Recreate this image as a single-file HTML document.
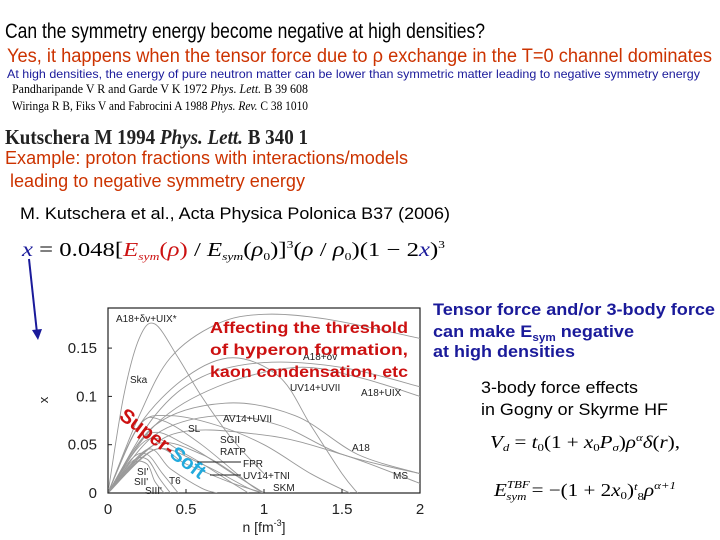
<!DOCTYPE html>
<html><head><meta charset="utf-8"><style>
html,body{margin:0;padding:0;background:#fff;}
svg{display:block;font-family:"Liberation Sans",sans-serif;}
.s{font-family:"Liberation Serif",serif;}
.lab{font-size:10px;fill:#222;}
</style></head><body>
<svg id="slide" width="720" height="540" viewBox="0 0 720 540" xmlns="http://www.w3.org/2000/svg">
<text x="5" y="38" font-size="21" textLength="480" lengthAdjust="spacingAndGlyphs">Can the symmetry energy become negative at high densities?</text>
<text x="7" y="62" font-size="19" fill="#cc3300" textLength="705" lengthAdjust="spacingAndGlyphs">Yes, it happens when the tensor force due to ρ exchange in the T=0 channel dominates</text>
<text x="7" y="78" font-size="12" fill="#1a1a9a" textLength="693" lengthAdjust="spacingAndGlyphs">At high densities, the energy of pure neutron matter can be lower than symmetric matter leading to negative symmetry energy</text>
<text class="s" x="12" y="93" font-size="13" textLength="296" lengthAdjust="spacingAndGlyphs">Pandharipande V R and Garde V K 1972 <tspan font-style="italic">Phys. Lett.</tspan> B 39 608</text>
<text class="s" x="12" y="110" font-size="13" textLength="296" lengthAdjust="spacingAndGlyphs">Wiringa R B, Fiks V and Fabrocini A 1988 <tspan font-style="italic">Phys. Rev.</tspan> C 38 1010</text>
<text class="s" x="5" y="144" font-size="21" font-weight="bold" fill="#222" textLength="303" lengthAdjust="spacingAndGlyphs">Kutschera M 1994 <tspan font-style="italic">Phys. Lett.</tspan> B 340 1</text>
<text x="5" y="164" font-size="18" fill="#cc3300" textLength="403" lengthAdjust="spacingAndGlyphs">Example: proton fractions with interactions/models</text>
<text x="10" y="187" font-size="18" fill="#cc3300" textLength="295" lengthAdjust="spacingAndGlyphs">leading to negative symmetry energy</text>
<text x="20" y="219" font-size="17" textLength="430" lengthAdjust="spacingAndGlyphs">M. Kutschera et al., Acta Physica Polonica B37 (2006)</text>
<text class="s" x="22" y="256" font-size="20" textLength="423" lengthAdjust="spacingAndGlyphs"><tspan fill="#1a1a9a" font-style="italic">x</tspan> = 0.048[<tspan fill="#cc1111" font-style="italic">E<tspan font-size="11" dy="4">sym</tspan></tspan><tspan dy="-4" fill="#cc1111">(<tspan font-style="italic">ρ</tspan>)</tspan> / <tspan font-style="italic">E<tspan font-size="11" dy="4">sym</tspan></tspan><tspan dy="-4">(<tspan font-style="italic">ρ</tspan><tspan font-size="11" dy="4">0</tspan></tspan><tspan dy="-4">)]<tspan font-size="11" dy="-8">3</tspan></tspan><tspan dy="8">(<tspan font-style="italic">ρ</tspan> / <tspan font-style="italic">ρ</tspan><tspan font-size="11" dy="4">0</tspan></tspan><tspan dy="-4">)(1 − 2<tspan fill="#1a1a9a" font-style="italic">x</tspan>)<tspan font-size="11" dy="-8">3</tspan></tspan></text>
<line x1="29" y1="259" x2="37" y2="333" stroke="#1a1a9a" stroke-width="2"/>
<polygon points="32,330 42,329 38,340" fill="#1a1a9a"/>

<g id="chart"></g>

<text x="433" y="315" font-size="17" font-weight="bold" fill="#1a1a9a" textLength="282" lengthAdjust="spacingAndGlyphs">Tensor force and/or 3-body force</text>
<text x="433" y="337" font-size="17" font-weight="bold" fill="#1a1a9a" textLength="201" lengthAdjust="spacingAndGlyphs">can make E<tspan font-size="11" dy="4">sym</tspan><tspan dy="-4"> negative</tspan></text>
<text x="433" y="357" font-size="17" font-weight="bold" fill="#1a1a9a" textLength="142" lengthAdjust="spacingAndGlyphs">at high densities</text>
<text x="481" y="393" font-size="17" textLength="157" lengthAdjust="spacingAndGlyphs">3-body force effects</text>
<text x="481" y="415" font-size="17" textLength="187" lengthAdjust="spacingAndGlyphs">in Gogny or Skyrme HF</text>
<text class="s" x="490" y="448" font-size="18" textLength="190" lengthAdjust="spacingAndGlyphs"><tspan font-style="italic">V<tspan font-size="11" dy="3">d</tspan></tspan><tspan dy="-3"> = </tspan><tspan font-style="italic">t</tspan><tspan font-size="11" dy="3">0</tspan><tspan dy="-3">(1 + </tspan><tspan font-style="italic">x</tspan><tspan font-size="11" dy="3">0</tspan><tspan dy="-3" font-style="italic">P<tspan font-size="11" dy="3">σ</tspan></tspan><tspan dy="-3">)</tspan><tspan font-style="italic">ρ<tspan font-size="11" dy="-7">α</tspan></tspan><tspan dy="7" font-style="italic">δ</tspan>(<tspan font-style="italic">r</tspan>),</text>
<text class="s" x="494" y="496" font-size="18" textLength="182" lengthAdjust="spacingAndGlyphs"><tspan font-style="italic">E<tspan font-size="11" dy="-8">TBF</tspan></tspan><tspan font-size="11" font-style="italic" dx="-20" dy="12">sym</tspan><tspan dy="-4"> = −(1 + 2</tspan><tspan font-style="italic">x</tspan><tspan font-size="11" dy="3">0</tspan><tspan dy="-3">)</tspan><tspan font-size="11" dy="-6" font-style="italic">t</tspan><tspan font-size="11" dy="10">8</tspan><tspan dy="-4" font-style="italic">ρ</tspan><tspan font-size="11" dy="-7" font-style="italic">α+1</tspan></text>
</svg>
<script>
const xTicks=[0,0.5,1,1.5,2];
const xTickLabels=["0","0.5","1","1.5","2"];
const yTicks=[0,0.05,0.1,0.15];
const yTickLabels=["0","0.05","0.1","0.15"];
const curveA18dvUIX=[[0,0],[0.1,0.1],[0.2,0.16],[0.3,0.175],[0.45,0.14],[0.6,0.1],[0.8,0.055],[1.0,0.02]];
const curveTop=[[0,0],[0.2,0.08],[0.4,0.14],[0.7,0.175],[1.0,0.185],[1.4,0.18],[2,0.16]];
const curveA18dv=[[0,0],[0.2,0.07],[0.5,0.12],[0.8,0.14],[1.1,0.12],[1.3,0.07],[1.5,0.02],[1.6,0]];
const curveUV14UVII=[[0,0],[0.3,0.08],[0.6,0.12],[1,0.135],[1.5,0.13],[2,0.11]];
const curveA18UIX=[[0,0],[0.3,0.07],[0.7,0.11],[1.2,0.13],[1.6,0.12],[2,0.1]];
const curveAV14UVII=[[0,0],[0.3,0.07],[0.75,0.093],[1.2,0.08],[1.6,0.04],[2,0.02]];
const curveA18=[[0,0],[0.3,0.06],[0.7,0.08],[1.1,0.07],[1.5,0.04],[2,0.02]];
const curveMS=[[0,0],[0.4,0.06],[1,0.06],[1.5,0.04],[2,0.01]];
const curveSL=[[0,0],[0.2,0.07],[0.4,0.08],[0.7,0.07],[1,0.05],[1.3,0.02],[1.55,0]];
const curveSka=[[0,0],[0.2,0.07],[0.35,0.075],[0.6,0.05],[0.9,0.01],[1,0]];
const curveSGII=[[0,0],[0.25,0.06],[0.5,0.05],[0.8,0.02],[1,0]];
const curveRATP=[[0,0],[0.25,0.055],[0.5,0.04],[0.8,0.01],[0.9,0]];
const curveFPR=[[0,0],[0.3,0.05],[0.6,0.04],[0.9,0.01],[1,0]];
const curveUV14TNI=[[0,0],[0.3,0.045],[0.6,0.03],[0.9,0.005],[1,0]];
const curveSKM=[[0,0],[0.3,0.045],[0.5,0.03],[0.8,0.01],[1,0]];
const curveT6=[[0,0],[0.25,0.045],[0.4,0.025],[0.6,0.005],[0.7,0]];
const curveSI=[[0,0],[0.15,0.035],[0.25,0.04],[0.35,0.02],[0.45,0]];
const curveSII=[[0,0],[0.15,0.032],[0.25,0.035],[0.33,0.015],[0.4,0]];
const curveSIII=[[0,0],[0.15,0.03],[0.25,0.03],[0.3,0.012],[0.36,0]];
const curves=[curveA18dvUIX,curveTop,curveA18dv,curveUV14UVII,curveA18UIX,curveAV14UVII,curveA18,curveMS,curveSL,curveSka,curveSGII,curveRATP,curveFPR,curveUV14TNI,curveSKM,curveT6,curveSI,curveSII,curveSIII];
const curveNames=["a18-dv-uix","top","a18-dv","uv14-uvii","a18-uix","av14-uvii","a18","ms","sl","ska","sgii","ratp","fpr","uv14-tni","skm","t6","si","sii","siii"];

const X0=108,X1=420,Y0=493,Y1=308,XMAX=2,YMAX=0.1915;
const sx=v=>X0+(X1-X0)*v/XMAX;
const sy=v=>Y0-(Y0-Y1)*v/YMAX;
const NS="http://www.w3.org/2000/svg";
const g=document.getElementById('chart');
function mk(tag,attrs,parent){const e=document.createElementNS(NS,tag);for(const k in attrs)e.setAttribute(k,attrs[k]);(parent||g).appendChild(e);return e;}
function path(pts){
  const p=pts.map(q=>[sx(q[0]),sy(q[1])]);
  let d="M"+p[0][0]+","+p[0][1];
  for(let i=0;i<p.length-1;i++){
    const a=p[Math.max(0,i-1)],b=p[i],c=p[i+1],e=p[Math.min(p.length-1,i+2)];
    const c1=[b[0]+(c[0]-a[0])/6,Math.min(Y0,b[1]+(c[1]-a[1])/6)];
    const c2=[c[0]-(e[0]-b[0])/6,Math.min(Y0,c[1]-(e[1]-b[1])/6)];
    d+=" C"+c1[0]+","+c1[1]+" "+c2[0]+","+c2[1]+" "+c[0]+","+c[1];
  }
  return d;
}
const frame=mk('rect',{x:X0,y:Y1,width:X1-X0,height:Y0-Y1,fill:'none',stroke:'#222','stroke-width':1.2});


const cg=mk('g',{'clip-path':'url(#pc)'});
const defs=mk('defs',{});const cp=mk('clipPath',{id:'pc'},defs);mk('rect',{x:X0,y:Y1,width:X1-X0,height:Y0-Y1},cp);
curves.forEach((c,i)=>{
  const e=mk('path',{d:path(c),fill:'none',stroke:'#999','stroke-width':0.9},cg);
  
  
});
xTicks.forEach((v,i)=>{
  mk('line',{x1:sx(v),x2:sx(v),y1:Y0,y2:Y0-4,stroke:'#222'});
  const t=mk('text',{x:sx(v),y:514,'font-size':15,'text-anchor':'middle',fill:'#222'});
  t.textContent=xTickLabels[i];
  
  
});
yTicks.forEach((v,i)=>{
  mk('line',{x1:X0,x2:X0+4,y1:sy(v),y2:sy(v),stroke:'#222'});
  const t=mk('text',{x:97,y:sy(v)+5,'font-size':15,'text-anchor':'end',fill:'#222'});
  t.textContent=yTickLabels[i];
  
  
});
const xt=mk('text',{x:264,y:532,'font-size':14,'text-anchor':'middle',fill:'#222'});
xt.innerHTML='n [fm<tspan font-size="9" dy="-6">-3</tspan><tspan dy="6">]</tspan>';


const yt=mk('text',{x:44,y:404,'font-size':13,'text-anchor':'middle',fill:'#222',transform:'rotate(-90 44 400)'});
yt.textContent='x';


const labels=[["A18+δv+UIX*",116,322],["Ska",130,383],["A18+δv",303,360],["UV14+UVII",290,391],["A18+UIX",361,396],["AV14+UVII",223,422],["SL",188,432],["SGII",220,443],["RATP",220,455],["A18",352,451],["FPR",243,467],["UV14+TNI",243,479],["MS",393,479],["SKM",273,491],["SI'",137,475],["SII'",134,485],["SIII'",145,494],["T6",169,484]];
labels.forEach(l=>{
  const t=mk('text',{x:l[1],y:l[2],class:'lab'});
  t.textContent=l[0];
  
  
});
mk('line',{x1:197,y1:462,x2:241,y2:462,stroke:'#222'});
mk('line',{x1:210,y1:475,x2:241,y2:475,stroke:'#222'});
[["Affecting the threshold",333],["of hyperon formation,",355],["kaon condensation, etc",377]].forEach(a=>{
  const t=mk('text',{x:210,y:a[1],'font-size':16,'font-weight':'bold',fill:'#cc1111',textLength:198,lengthAdjust:'spacingAndGlyphs'});
  t.textContent=a[0];
  
  
});
const ss=mk('text',{x:118,y:418,'font-size':20,'font-weight':'bold',transform:'rotate(37 118 418)'});
ss.innerHTML='<tspan fill="#cc1111">Super-</tspan><tspan fill="#22aadd">Soft</tspan>';


</script>
</body></html>
